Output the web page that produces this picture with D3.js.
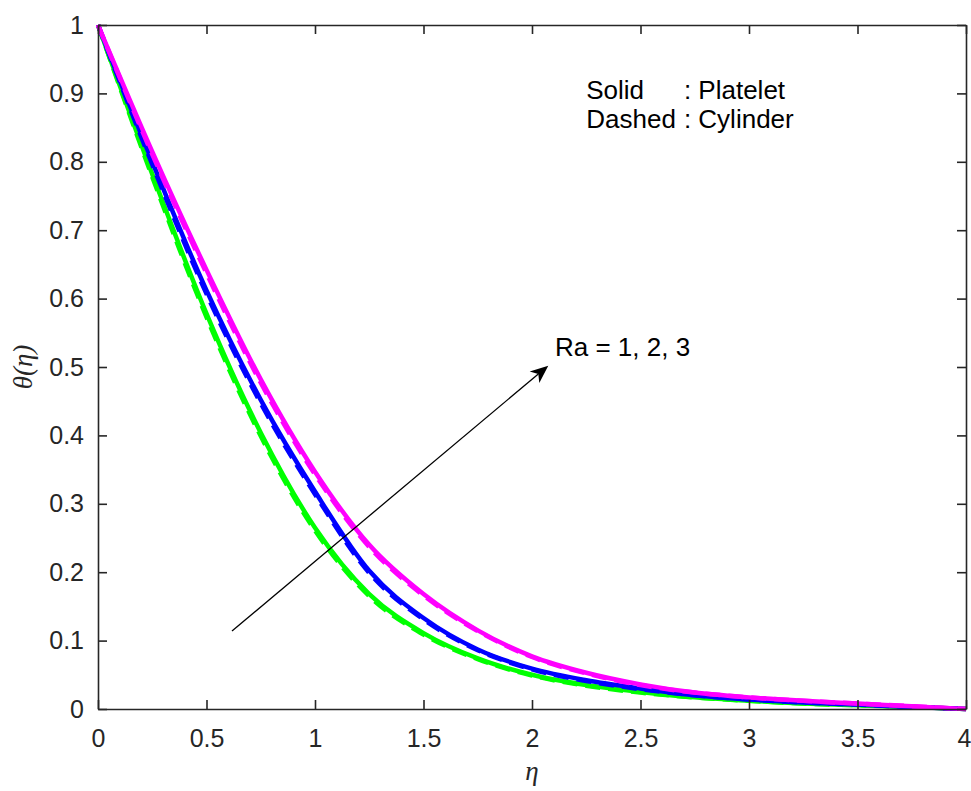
<!DOCTYPE html>
<html>
<head>
<meta charset="utf-8">
<script src="https://cdn.jsdelivr.net/npm/d3@7"></script>
<style>
  body { margin: 0; background: #fff; }
  svg { display: block; }
  .tick text { font-family: "Liberation Sans", Arial, Helvetica, sans-serif; font-size: 25px; fill: #262626; }
</style>
</head>
<body>
<script>
// eta grid and temperature profiles
const eta = [0, 0.25, 0.5, 0.75, 1, 1.25, 1.5, 1.75, 2, 2.25, 2.5, 2.75, 3, 3.25, 3.5, 3.75, 4]

// solid = platelet
const plateletRa1 = [1, 0.782, 0.578, 0.404, 0.265, 0.168, 0.111, 0.074, 0.050, 0.035, 0.025, 0.017, 0.012, 0.008, 0.0055, 0.003, 0]
const plateletRa2 = [1, 0.800, 0.612, 0.452, 0.318, 0.202, 0.133, 0.087, 0.059, 0.042, 0.030, 0.020, 0.014, 0.0095, 0.0065, 0.003, 0]
const plateletRa3 = [1, 0.815, 0.642, 0.482, 0.347, 0.240, 0.168, 0.115, 0.077, 0.053, 0.036, 0.024, 0.017, 0.012, 0.008, 0.004, 0]

// dashed = cylinder
const cylinderRa1 = [1, 0.778, 0.573, 0.399, 0.261, 0.165, 0.109, 0.073, 0.049, 0.034, 0.024, 0.017, 0.012, 0.008, 0.0055, 0.003, 0]
const cylinderRa2 = [1, 0.796, 0.607, 0.447, 0.314, 0.199, 0.131, 0.086, 0.058, 0.041, 0.029, 0.020, 0.014, 0.0095, 0.0065, 0.003, 0]
const cylinderRa3 = [1, 0.811, 0.637, 0.477, 0.343, 0.237, 0.166, 0.114, 0.076, 0.052, 0.035, 0.024, 0.017, 0.012, 0.008, 0.004, 0]

const colors = ['#00ff00', '#0000ff', '#ff00ff']
const xTicks = d3.range(0, 4.01, 0.5)
const yTicks = d3.range(0, 1.001, 0.1)

const width = 971
const height = 791
const margin = {top: 25, right: 5, bottom: 82, left: 98}
const w = width - margin.left - margin.right
const h = height - margin.top - margin.bottom

const svg = d3.select('body')
    .append('svg')
    .attr('width', width)
    .attr('height', height)

const x = d3.scaleLinear().domain([0, 4]).range([0, w])
const y = d3.scaleLinear().domain([0, 1]).range([h, 0])

const g = svg.append('g').attr('transform', `translate(${margin.left},${margin.top})`)

// curves
const line = d3.line()
    .x(d => x(d[0]))
    .y(d => y(d[1]))
    .curve(d3.curveMonotoneX)

const series = [
    {solid: plateletRa1, dashed: cylinderRa1},
    {solid: plateletRa2, dashed: cylinderRa2},
    {solid: plateletRa3, dashed: cylinderRa3}
]

series.forEach((s, i) => {
    g.append('path')
        .datum(eta.map((e, k) => [e, s.solid[k]]))
        .attr('d', line)
        .attr('fill', 'none')
        .attr('stroke', colors[i])
        .attr('stroke-width', 4.5)
    g.append('path')
        .datum(eta.map((e, k) => [e, s.dashed[k]]))
        .attr('d', line)
        .attr('fill', 'none')
        .attr('stroke', colors[i])
        .attr('stroke-width', 4.5)
        .attr('stroke-dasharray', '15,8')
})

// axes (box with inward ticks)
const styleAxis = sel => {
    sel.selectAll('.domain').attr('stroke', '#262626').attr('stroke-width', 1.6)
    sel.selectAll('.tick line').attr('stroke', '#262626').attr('stroke-width', 1.6)
}

const xAxis = g.append('g')
    .attr('transform', `translate(0,${h})`)
    .call(d3.axisBottom(x).tickValues(xTicks).tickSize(-9).tickSizeOuter(0).tickPadding(20).tickFormat(d3.format('')))
    .call(styleAxis)

// last label sits against the right edge of the figure
xAxis.selectAll('.tick text').filter(d => d === 4).attr('dx', -2)

g.append('g')
    .call(d3.axisTop(x).tickValues(xTicks).tickSize(-9).tickSizeOuter(0).tickFormat(''))
    .call(styleAxis)

g.append('g')
    .call(d3.axisLeft(y).tickValues(yTicks).tickSize(-9).tickSizeOuter(0).tickPadding(14).tickFormat(d3.format('')))
    .call(styleAxis)

g.append('g')
    .attr('transform', `translate(${w},0)`)
    .call(d3.axisRight(y).tickValues(yTicks).tickSize(-9).tickSizeOuter(0).tickFormat(''))
    .call(styleAxis)

g.selectAll('.tick text').attr('font-family', null).attr('font-size', null)

// axis labels
svg.append('text')
    .attr('x', margin.left + w / 2)
    .attr('y', 780)
    .attr('text-anchor', 'middle')
    .attr('font-family', '"Liberation Serif", "DejaVu Serif", serif')
    .attr('font-style', 'italic')
    .attr('font-size', 27)
    .attr('fill', '#262626')
    .text('η')

svg.append('text')
    .attr('transform', `translate(32,${margin.top + h / 2}) rotate(-90)`)
    .attr('text-anchor', 'middle')
    .attr('font-family', '"Liberation Serif", "DejaVu Serif", serif')
    .attr('font-style', 'italic')
    .attr('font-size', 27)
    .attr('fill', '#262626')
    .text('θ(η)')

// legend note
const note = g.append('g')
    .attr('font-family', '"Liberation Sans", Arial, Helvetica, sans-serif')
    .attr('font-size', 26)
    .attr('fill', '#000')

note.append('text').attr('x', x(2.25)).attr('y', y(0.892)).text('Solid')
note.append('text').attr('x', x(2.7)).attr('y', y(0.892)).text(': Platelet')
note.append('text').attr('x', x(2.25)).attr('y', y(0.849)).text('Dashed')
note.append('text').attr('x', x(2.7)).attr('y', y(0.849)).text(': Cylinder')

// arrow for Ra
const arrowStart = [0.6175, 0.114]
const arrowEnd = [2.075, 0.502]
const x0 = x(arrowStart[0]), y0 = y(arrowStart[1])
const x1 = x(arrowEnd[0]), y1 = y(arrowEnd[1])
const ang = Math.atan2(y1 - y0, x1 - x0)
const headLen = 18
const headW = 7.5
const back = 13
g.append('line')
    .attr('x1', x0).attr('y1', y0)
    .attr('x2', x1 - Math.cos(ang) * back).attr('y2', y1 - Math.sin(ang) * back)
    .attr('stroke', '#000')
    .attr('stroke-width', 1.3)

const pt = (along, across) => [
    x1 + Math.cos(ang) * along - Math.sin(ang) * across,
    y1 + Math.sin(ang) * along + Math.cos(ang) * across
]
const head = [pt(0, 0), pt(-headLen, headW), pt(-back, 0), pt(-headLen, -headW)]
g.append('path')
    .attr('d', 'M' + head.map(p => p.join(',')).join('L') + 'Z')
    .attr('fill', '#000')

note.append('text').attr('x', x(2.106)).attr('y', y(0.5165)).text('Ra = 1, 2, 3')
</script>
</body>
</html>
